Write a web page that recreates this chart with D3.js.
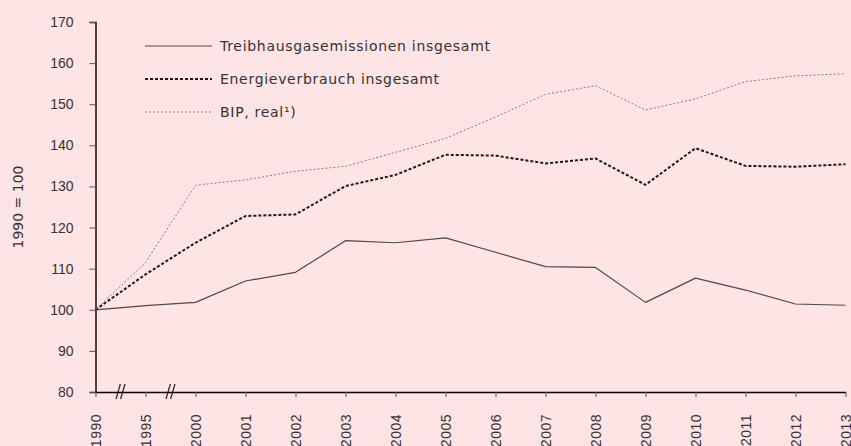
<!DOCTYPE html>
<html>
<head>
<meta charset="utf-8">
<script src="https://cdn.jsdelivr.net/npm/d3@7"></script>
<style>
  html, body { margin: 0; padding: 0; background: #fee4e5; }
  svg { display: block; font-family: "DejaVu Sans", sans-serif; }
  .tick text { fill: #333; font-size: 14px; }
</style>
</head>
<body>
<svg width="851" height="446"></svg>
<script>
let years = ['1990','1995','2000','2001','2002','2003','2004','2005','2006','2007','2008','2009','2010','2011','2012','2013']
let yTicks = [80,90,100,110,120,130,140,150,160,170]

let treibhaus = [100,101.0,101.8,107.0,109.1,116.8,116.3,117.5,114.0,110.5,110.3,101.8,107.7,104.8,101.4,101.1]
let energie = [100,108.6,116.3,122.8,123.2,130.1,132.8,137.7,137.5,135.6,136.8,130.4,139.3,135.0,134.8,135.4]
let bip = [100,111.5,130.3,131.6,133.7,134.9,138.3,141.7,146.9,152.4,154.5,148.6,151.3,155.5,156.9,157.4]

let seriesNames = ['Treibhausgasemissionen insgesamt','Energieverbrauch insgesamt','BIP, real¹)']
let breaks = [['1990','1995'], ['1995','2000']]

let svg = d3.select('svg')

svg.append('rect')
    .attr('width', 851)
    .attr('height', 446)
    .attr('fill', '#fee4e5')

let x = d3.scalePoint()
    .domain(years)
    .range([95.5, 845.5])

let y = d3.scaleLinear()
    .domain([80, 170])
    .range([392, 22])

let styles = [
    {stroke: '#4a4a4a', width: 1.2, dash: null},
    {stroke: '#1a1a1a', width: 2, dash: '3,2'},
    {stroke: '#808080', width: 1, dash: '2,2'}
]

// axes
let yAxis = svg.append('g')
    .attr('transform', 'translate(95.5,0)')
    .call(d3.axisLeft(y).tickValues(yTicks).tickSize(6).tickPadding(16))
yAxis.select('.domain').attr('stroke', '#000').attr('stroke-width', 1.4)
yAxis.selectAll('.tick line').attr('stroke', '#555')

let xAxis = svg.append('g')
    .attr('transform', 'translate(0,392)')
    .call(d3.axisBottom(x).tickSize(5).tickSizeOuter(0))
xAxis.select('.domain').attr('stroke', '#000').attr('stroke-width', 1.4)
xAxis.selectAll('.tick line').attr('stroke', '#555')
xAxis.selectAll('.tick text')
    .attr('transform', 'rotate(-90)')
    .attr('text-anchor', 'end')
    .attr('x', -22)
    .attr('y', 0)
    .attr('dy', '0.35em')
    .attr('letter-spacing', 0.5)

// axis break marks
breaks.forEach(b => {
    let cx = (x(b[0]) + x(b[1])) / 2
    ;[-2.3, 2.3].forEach(off => {
        svg.append('line')
            .attr('x1', cx + off - 2.2)
            .attr('y1', 399)
            .attr('x2', cx + off + 2.2)
            .attr('y2', 384)
            .attr('stroke', '#222')
            .attr('stroke-width', 1.2)
    })
})

// y title
svg.append('text')
    .attr('transform', 'translate(23,207) rotate(-90)')
    .attr('text-anchor', 'middle')
    .attr('fill', '#333')
    .attr('font-size', 14)
    .text('1990 = 100')

// lines
let line = d3.line()
    .x((d, i) => x(years[i]))
    .y(d => y(d))

;[treibhaus, energie, bip].forEach((s, i) => {
    svg.append('path')
        .datum(s)
        .attr('d', line)
        .attr('fill', 'none')
        .attr('stroke', styles[i].stroke)
        .attr('stroke-width', styles[i].width)
        .attr('stroke-dasharray', styles[i].dash)
        .attr('stroke-linejoin', 'round')
})

// legend
let legend = svg.selectAll('.legend')
    .data(seriesNames)
    .enter().append('g')
    .attr('class', 'legend')
    .attr('transform', (d, i) => `translate(145,${46 + i * 33})`)

legend.append('line')
    .attr('x1', 0)
    .attr('x2', 67)
    .attr('stroke', (d, i) => styles[i].stroke)
    .attr('stroke-width', (d, i) => styles[i].width)
    .attr('stroke-dasharray', (d, i) => styles[i].dash)

legend.append('text')
    .attr('x', 75)
    .attr('dy', '0.36em')
    .attr('fill', '#333')
    .attr('font-size', 14)
    .attr('letter-spacing', 0.7)
    .text(d => d)
</script>
</body>
</html>
